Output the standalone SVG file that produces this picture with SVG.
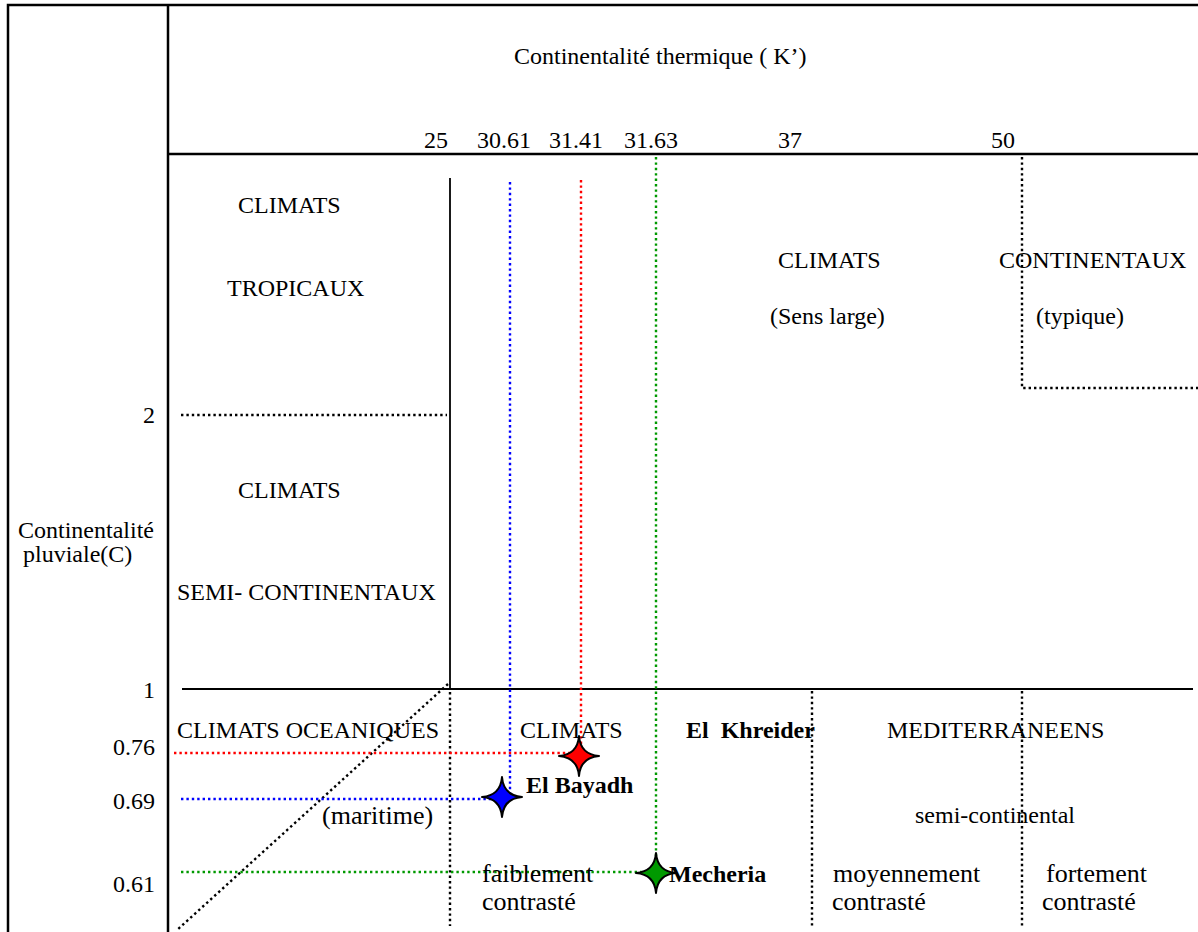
<svg xmlns="http://www.w3.org/2000/svg" width="1198" height="932" viewBox="0 0 1198 932">
<style>
text{font-family:"Liberation Serif","Times New Roman",serif;font-size:24px;fill:#000;white-space:pre}
.b{font-weight:bold}
.l{font-size:26px}
.frame{fill:none;stroke:#000;stroke-width:2.5}
.solid{stroke:#000;stroke-width:1.8;fill:none}
.dot{fill:none;stroke-width:2.4;stroke-dasharray:2.4 3}
.k{stroke:#000}.r{stroke:#ff0000}.bl{stroke:#0000ff}.g{stroke:#009900}
.star{stroke:#000;stroke-width:2;stroke-linejoin:round}
</style>
<defs>
<path id="star" d="M0,-20 Q1.5,-1.5 20,0 Q1.5,1.5 0,20 Q-1.5,1.5 -20,0 Q-1.5,-1.5 0,-20 Z"/>
</defs>
<rect width="1198" height="932" fill="#fff"/>
<g id="frame">
<rect class="frame" x="8" y="5" width="1200" height="940"/>
<line class="frame" x1="168" y1="5" x2="168" y2="940"/>
<line class="frame" x1="168" y1="154" x2="1200" y2="154"/>
</g>
<g id="connectors">
<line class="solid" x1="450" y1="178" x2="450" y2="689"/>
<line class="solid" x1="182" y1="689" x2="1193" y2="689"/>
<line class="dot k" x1="181" y1="415" x2="447" y2="415"/>
<polyline class="dot k" points="1022,157 1022,388 1198,388"/>
<line class="dot k" x1="450" y1="692" x2="450" y2="926"/>
<line class="dot k" x1="812" y1="691" x2="812" y2="926"/>
<line class="dot k" x1="1022" y1="691" x2="1022" y2="926"/>
<line class="dot k" x1="448" y1="684" x2="177" y2="930"/>
<line class="dot bl" x1="510" y1="182" x2="510" y2="800"/>
<line class="dot r" x1="581" y1="180" x2="581" y2="752"/>
<line class="dot g" x1="656" y1="157" x2="656" y2="872"/>
<line class="dot r" x1="174" y1="753" x2="575" y2="753"/>
<line class="dot bl" x1="181" y1="799" x2="500" y2="799"/>
<line class="dot g" x1="181" y1="872" x2="650" y2="872"/>
</g>
<g id="axis-labels">
<text x="514" y="64">Continentalité thermique ( K’)</text>
<text x="424" y="148">25</text>
<text x="477" y="148">30.61</text>
<text x="549" y="148">31.41</text>
<text x="624" y="148">31.63</text>
<text x="778" y="148">37</text>
<text x="991" y="148">50</text>
<text x="18" y="538">Continentalité</text>
<text x="23" y="562">pluviale(C)</text>
<text x="155" y="423" text-anchor="end">2</text>
<text x="155" y="698" text-anchor="end">1</text>
<text x="155" y="755" text-anchor="end">0.76</text>
<text x="155" y="809" text-anchor="end">0.69</text>
<text x="155" y="892" text-anchor="end">0.61</text>
</g>
<g id="zone-tropicaux">
<text x="238" y="213">CLIMATS</text>
<text x="227" y="296">TROPICAUX</text>
</g>
<g id="zone-semi-continentaux">
<text x="238" y="498">CLIMATS</text>
<text x="177" y="600">SEMI- CONTINENTAUX</text>
</g>
<g id="zone-continentaux">
<text x="778" y="268">CLIMATS</text>
<text x="770" y="324">(Sens large)</text>
<text x="999" y="268">CONTINENTAUX</text>
<text x="1036" y="324">(typique)</text>
</g>
<g id="zone-oceaniques">
<text x="177" y="738">CLIMATS OCEANIQUES</text>
<text class="l" x="322" y="824">(maritime)</text>
</g>
<g id="zone-mediterraneens">
<text x="520" y="738">CLIMATS</text>
<text x="887" y="738">MEDITERRANEENS</text>
<text x="915" y="823">semi-continental</text>
<text class="l" x="482" y="882">faiblement</text>
<text class="l" x="482" y="910">contrasté</text>
<text class="l" x="833" y="882">moyennement</text>
<text class="l" x="832" y="910">contrasté</text>
<text class="l" x="1046" y="882">fortement</text>
<text class="l" x="1042" y="910">contrasté</text>
</g>
<g id="station-el-khreider">
<use href="#star" x="579" y="756" class="star" fill="#ff0000"/>
<text class="b" x="686" y="738">El  Khreider</text>
</g>
<g id="station-el-bayadh">
<use href="#star" x="502" y="797" class="star" fill="#0000ff"/>
<text class="b" x="526" y="793">El Bayadh</text>
</g>
<g id="station-mecheria">
<use href="#star" x="656" y="873" class="star" fill="#009900"/>
<text class="b" x="669" y="882">Mecheria</text>
</g>
</svg>
